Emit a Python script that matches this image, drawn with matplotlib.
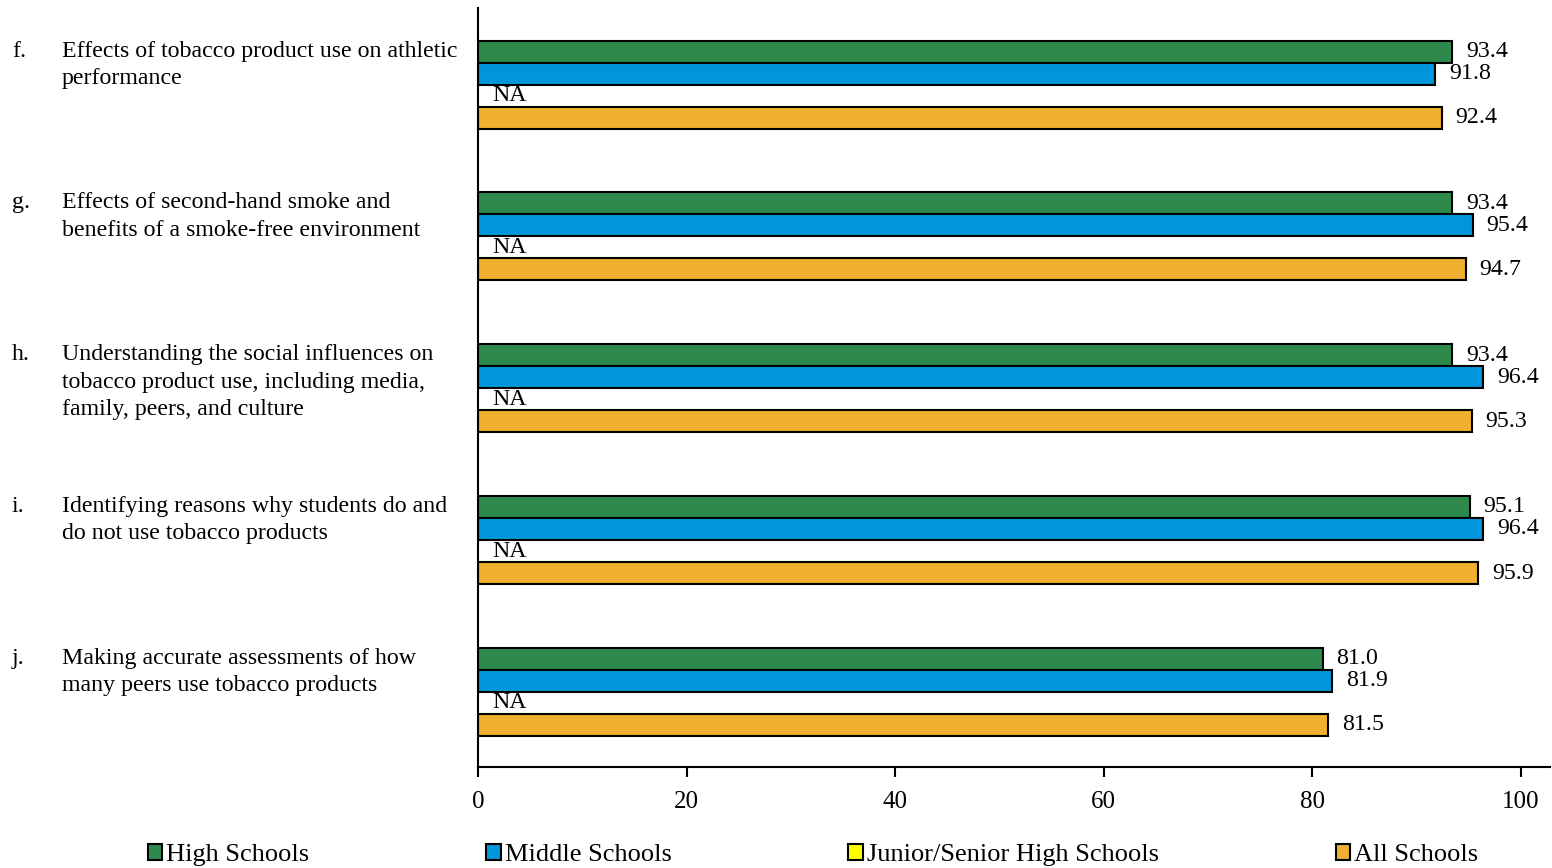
import matplotlib.pyplot as plt
import numpy as np

plt.rcParams['font.family'] = ['Liberation Serif', 'DejaVu Serif']

letters = ['f.', 'g.', 'h.', 'i.', 'j.']
items = [
    'Effects of tobacco product use on athletic\nperformance',
    'Effects of second-hand smoke and\nbenefits of a smoke-free environment',
    'Understanding the social influences on\ntobacco product use, including media,\nfamily, peers, and culture',
    'Identifying reasons why students do and\ndo not use tobacco products',
    'Making accurate assessments of how\nmany peers use tobacco products',
]
series = ['High Schools', 'Middle Schools', 'Junior/Senior High Schools', 'All Schools']
high = [93.4, 93.4, 93.4, 95.1, 81.0]
middle = [91.8, 95.4, 96.4, 96.4, 81.9]
junior = [None, None, None, None, None]  # NA
all_schools = [92.4, 94.7, 95.3, 95.9, 81.5]
colors = ['#2E8A4C', '#0096DC', '#FFFF00', '#F0B030']

fig = plt.figure(figsize=(15.52, 8.68), dpi=100)
ax = fig.add_axes([0.308, 0.1164, 0.6907, 0.8745])

y = np.arange(len(items))
h = 0.145
offsets = [-1.5 * h, -0.5 * h, 0.5 * h, 1.5 * h]
shift = 0.005

for vals, off, col, name in zip([high, middle, junior, all_schools], offsets, colors, series):
    for i, v in enumerate(vals):
        yy = y[i] + off + shift
        if v is None:
            ax.annotate('NA', (0, yy), xytext=(10, 0), textcoords='offset points',
                        ha='left', va='center', fontsize=17.2)
            continue
        ax.barh(yy, v, height=h, color=col, edgecolor='black', linewidth=1.5)
        ax.annotate(f'{v:.1f}', (v, yy), xytext=(10, 0), textcoords='offset points',
                    ha='left', va='center', fontsize=17.2)

ax.set_ylim(len(items) - 0.5, -0.5)
ax.set_xlim(0, 102.8)
ax.set_xticks([0, 20, 40, 60, 80, 100])
ax.tick_params(axis='x', labelsize=18, length=7, width=1.5, direction='out', pad=10)
ax.set_yticks([])
ax.spines['top'].set_visible(False)
ax.spines['right'].set_visible(False)
ax.spines['left'].set_linewidth(1.5)
ax.spines['bottom'].set_linewidth(1.5)

# category labels on the left, in figure x / data y
trans = ax.get_yaxis_transform()
fx = lambda px: (px / 1552 - 0.308) / 0.6907
for i, (let, txt) in enumerate(zip(letters, items)):
    yy = y[i] - 0.285
    ax.text(fx(12), yy, let, transform=trans, ha='left', va='top', fontsize=17.2)
    ax.text(fx(62), yy, txt, transform=trans, ha='left', va='top', fontsize=17.2,
            linespacing=1.4)

handles = [plt.Rectangle((0, 0), 1, 1, facecolor=c, edgecolor='black', linewidth=1.5) for c in colors]
fig.legend(handles, series, loc='lower left', bbox_to_anchor=(0.08, -0.025), ncol=4,
           frameon=False, fontsize=19, handlelength=0.55, handleheight=0.55,
           handletextpad=0.15, columnspacing=6.7)

fig.savefig('out.png', dpi=100)
